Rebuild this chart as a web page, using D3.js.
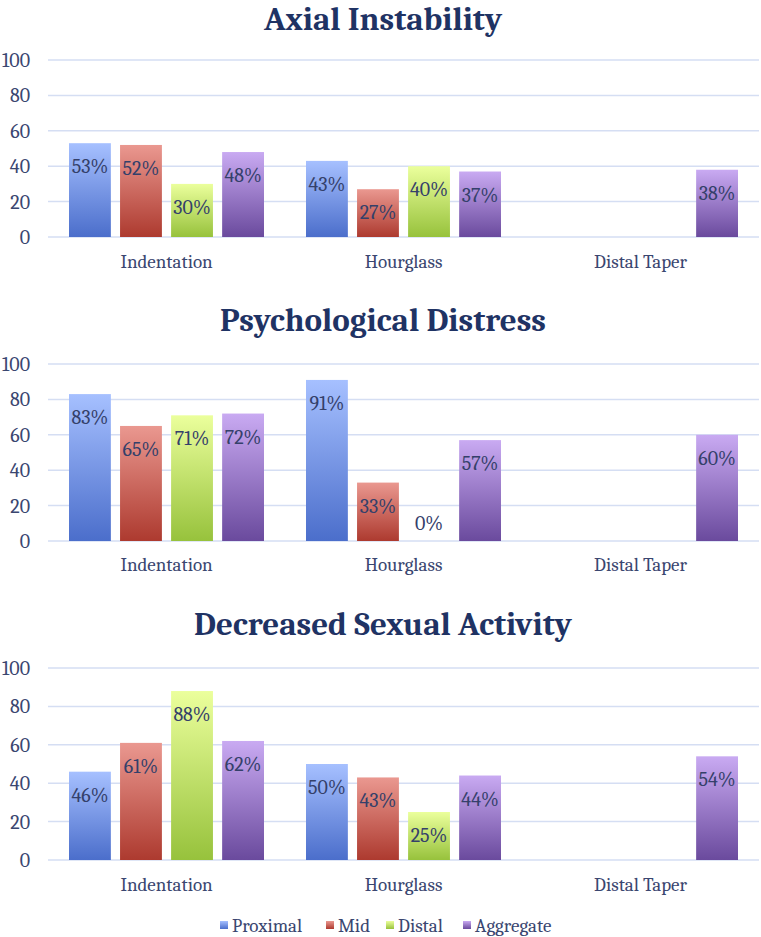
<!DOCTYPE html>
<html><head><meta charset="utf-8">
<script src="https://cdn.jsdelivr.net/npm/d3@7"></script>
<style>body{margin:0;background:#fff;} svg{display:block;}</style>
</head><body>
<svg id="c" width="761" height="937"></svg>
<script>
const categories = ["Indentation", "Hourglass", "Distal Taper"];
const seriesNames = ["Proximal", "Mid", "Distal", "Aggregate"];
const titles = ["Axial Instability", "Psychological Distress", "Decreased Sexual Activity"];
// values per chart: [category][series]; null = no bar
const axialValues = [[53,52,30,48],[43,27,40,37],[null,null,null,38]];
const psychValues = [[83,65,71,72],[91,33,0,57],[null,null,null,60]];
const sexualValues = [[46,61,88,62],[50,43,25,44],[null,null,null,54]];
const yTicks = [0,20,40,60,80,100];
const gradTop = ["#a6c0ff","#ea9890","#ebff9c","#c9aaf2"];
const gradBot = ["#4b6ecb","#ad3a2f","#97c23c","#6a4a9d"];

const svg = d3.select("#c");
const defs = svg.append("defs");
seriesNames.forEach((s,i)=>{
  const g = defs.append("linearGradient").attr("id","g"+i).attr("x1",0).attr("y1",0).attr("x2",0).attr("y2",1);
  g.append("stop").attr("offset","0%").attr("stop-color",gradTop[i]);
  g.append("stop").attr("offset","100%").attr("stop-color",gradBot[i]);
});
const fontSerif = "Cambria, Caladea, 'DejaVu Serif', 'Liberation Serif', serif";

const panels = [
  {title: titles[0], data: axialValues, titleY: 30, yTop: 60, yBot: 237, catY: 268},
  {title: titles[1], data: psychValues, titleY: 331, yTop: 364, yBot: 541, catY: 571},
  {title: titles[2], data: sexualValues, titleY: 635, yTop: 668, yBot: 860, catY: 891}
];

const x0 = d3.scaleBand().domain(categories).range([48, 759]).paddingInner(0).paddingOuter(0);
const x1 = d3.scaleBand().domain(seriesNames).range([21, x0.bandwidth()-21]).paddingInner(0.18).paddingOuter(0);

panels.forEach(p=>{
  const g = svg.append("g");
  const y = d3.scaleLinear().domain([0,100]).range([p.yBot, p.yTop]);
  g.append("text").attr("x",383).attr("y",p.titleY).attr("text-anchor","middle")
    .attr("font-family",fontSerif).attr("font-weight","bold").attr("font-size",33)
    .attr("fill","#1f3364").text(p.title);
  // grid
  g.selectAll("line.grid").data(yTicks).join("line")
    .attr("x1",48).attr("x2",759).attr("y1",d=>y(d)).attr("y2",d=>y(d))
    .attr("stroke","#d5def3").attr("stroke-width",1.5);
  // axis
  const ax = g.append("g").attr("transform","translate(44,0)")
    .call(d3.axisLeft(y).tickValues(yTicks).tickSize(0).tickPadding(14));
  ax.select(".domain").remove();
  ax.selectAll("text").attr("font-family",fontSerif).attr("font-size",20).attr("fill","#3a4670");
  // bars
  categories.forEach((c,ci)=>{
    const cg = g.append("g").attr("transform",`translate(${x0(c)},0)`);
    const rows = seriesNames.map((s,si)=>({s,si,v:p.data[ci][si]})).filter(d=>d.v!==null);
    cg.selectAll("rect").data(rows).join("rect")
      .attr("x",d=>x1(d.s)).attr("width",x1.bandwidth())
      .attr("y",d=>y(d.v)).attr("height",d=>y(0)-y(d.v))
      .attr("fill",d=>`url(#g${d.si})`);
    cg.selectAll("text").data(rows).join("text")
      .attr("x",d=>x1(d.s)+x1.bandwidth()/2)
      .attr("y",d=> d.v>0 ? y(d.v)+30 : y(0)-11)
      .attr("text-anchor","middle").attr("font-family",fontSerif).attr("font-size",20)
      .attr("fill","#34406a").text(d=>d.v+"%");
    g.append("text").attr("x",x0(c)+x0.bandwidth()/2).attr("y",p.catY).attr("text-anchor","middle")
      .attr("font-family",fontSerif).attr("font-size",19).attr("fill","#3a4670").text(c);
  });
});

// legend
const leg = svg.append("g");
const legX = [220, 326, 386, 463];
seriesNames.forEach((s,i)=>{
  leg.append("rect").attr("x",legX[i]).attr("y",921).attr("width",8).attr("height",8).attr("fill",`url(#g${i})`);
  leg.append("text").attr("x",legX[i]+12).attr("y",932).attr("font-family",fontSerif).attr("font-size",19)
    .attr("fill","#3a4670").text(s);
});
</script>
</body></html>
